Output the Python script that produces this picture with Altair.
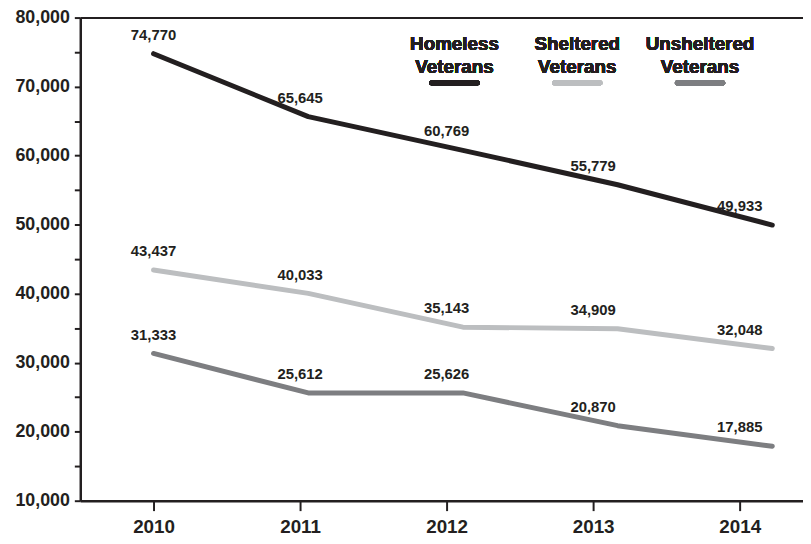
import altair as alt
import pandas as pd

# ---- data ----
years = [2010, 2011, 2012, 2013, 2014]
homeless = [74770, 65645, 60769, 55779, 49933]
sheltered = [43437, 40033, 35143, 34909, 32048]
unsheltered = [31333, 25612, 25626, 20870, 17885]
series_names = ["Homeless Veterans", "Sheltered Veterans", "Unsheltered Veterans"]
legend_lines = [["Homeless", "Veterans"], ["Sheltered", "Veterans"], ["Unsheltered", "Veterans"]]
series_colors = ["#231f20", "#bcbec0", "#7d7e81"]
y_ticks = list(range(10000, 80001, 5000))

rows = []
for name, vals in zip(series_names, [homeless, sheltered, unsheltered]):
    for yr, v in zip(years, vals):
        rows.append({"year": yr, "value": v, "series": name})
df = pd.DataFrame(rows)

W, H = 730, 488
INK = "#231f20"
FONT = "Liberation Sans"

y_enc = alt.Y(
    "value:Q",
    scale=alt.Scale(domain=[10000, 80000], nice=False, zero=False),
    axis=alt.Axis(
        values=y_ticks,
        labelExpr="datum.value % 10000 === 0 ? format(datum.value, ',') : ''",
        title=None,
        grid=False,
        tickSize=6,
        tickWidth=2,
        tickColor=INK,
        domainWidth=2.5,
        domainColor=INK,
        labelFont=FONT,
        labelFontWeight="bold",
        labelFontSize=18,
        labelColor=INK,
        labelPadding=5,
    ),
)

lines = alt.Chart(df).mark_line(strokeWidth=5, strokeCap="round", strokeJoin="round").encode(
    x=alt.X(
        "year:Q",
        scale=alt.Scale(domain=[2009.5264, 2014.1984], nice=False, zero=False),
        axis=alt.Axis(orient="top", labels=False, ticks=False, title=None, grid=False,
                      domainWidth=2, domainColor=INK),
    ),
    y=y_enc,
    color=alt.Color("series:N", scale=alt.Scale(domain=series_names, range=series_colors), legend=None),
    detail="series:N",
)

labels = alt.Chart(df).mark_text(
    font=FONT, fontWeight="bold", fontSize=15, dy=-19, color=INK
).encode(
    x=alt.X(
        "year:Q",
        scale=alt.Scale(domain=[2009.5, 2014.432], nice=False, zero=False),
        axis=alt.Axis(orient="bottom", values=years, labelExpr="format(datum.value, 'd')",
                      title=None, grid=False,
                      tickSize=10, tickWidth=2, tickColor=INK, domainWidth=2.5, domainColor=INK,
                      labelFont=FONT, labelFontWeight="bold",
                      labelFontSize=19, labelColor=INK, labelPadding=7),
    ),
    y=y_enc,
    text=alt.Text("value:Q", format=","),
)

# custom legend (text above coloured swatch)
legend_cx = [378, 502, 626]
legend_layers = []
for (l1, l2), col, cx in zip(legend_lines, series_colors, legend_cx):
    legend_layers.append(
        alt.Chart(df).mark_text(font=FONT, fontWeight="bold", fontSize=19,
                                color=INK, text=l1).encode(x=alt.value(cx), y=alt.value(27))
    )
    legend_layers.append(
        alt.Chart(df).mark_text(font=FONT, fontWeight="bold", fontSize=19,
                                color=INK, text=l2).encode(x=alt.value(cx), y=alt.value(50))
    )
    legend_layers.append(
        alt.Chart(df).mark_rule(strokeWidth=5, strokeCap="round", color=col).encode(
            x=alt.value(cx - 23), x2=alt.value(cx + 23), y=alt.value(66)
        )
    )

chart = alt.layer(lines, labels, *legend_layers).resolve_scale(x="independent").properties(
    width=W,
    height=H,
    autosize=alt.AutoSizeParams(type="none"),
    padding={"left": 73, "top": 7, "right": 0, "bottom": 36},
    background="white",
).configure_view(stroke=None)

chart.save("out.html", embed_options={"renderer": "svg", "actions": False})
